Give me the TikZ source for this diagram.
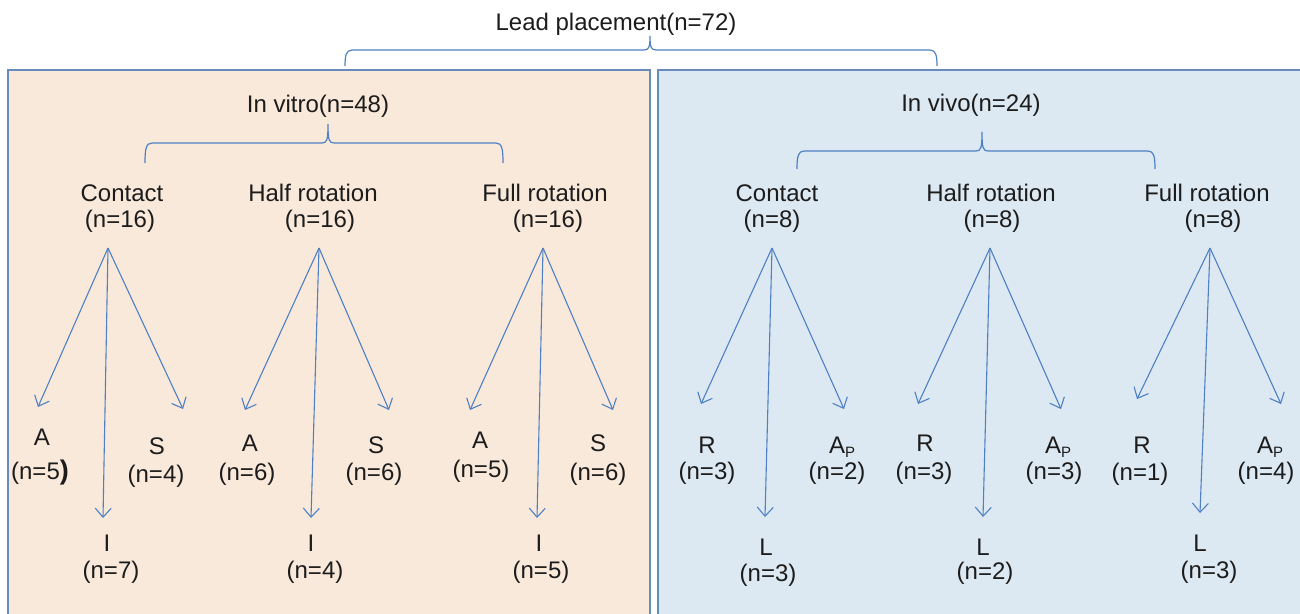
\documentclass[tikz,border=0pt]{standalone}
\usepackage{fontspec}
\setmainfont{Liberation Sans}
\usetikzlibrary{arrows.meta}
\definecolor{beigefill}{RGB}{249,233,218}
\definecolor{bluefill}{RGB}{221,233,242}
\definecolor{bordcol}{RGB}{105,138,188}
\definecolor{arrcol}{RGB}{78,128,196}
\definecolor{txtcol}{RGB}{28,28,28}
\newcommand\mybrace[6]{% x1, x2, xm, y, ybottom, tip height
  \draw[brc] (#1,#5) .. controls (#1,#4+6) and (#1+1,#4) .. (#1+7,#4) -- (#3-6,#4)
    .. controls (#3-1,#4) and (#3,#4-3) .. (#3,#4-#6)
    .. controls (#3,#4-3) and (#3+1,#4) .. (#3+6,#4) -- (#2-7,#4)
    .. controls (#2-1,#4) and (#2,#4+6) .. (#2,#5);}
\newcommand\Ap{A\raisebox{-0.35ex}{\fontsize{15}{15}\selectfont P}}
\begin{document}
\begin{tikzpicture}[x=1pt,y=-1pt,
  lbl/.style={inner sep=0pt,text=txtcol,text height=17pt,text depth=0pt,font=\fontsize{24}{26}\selectfont},
  arw/.style={draw=arrcol,line width=1.1pt,-{Straight Barb[length=9pt,width=16pt,line width=1.1pt]}},
  brc/.style={draw=arrcol,line width=1.2pt},
  panel/.style={draw=bordcol,line width=1.8pt}]
\useasboundingbox (0,0) rectangle (1300,613);
\clip (0,0) rectangle (1300,613);
% panels
\draw[panel,fill=beigefill] (8,70) rectangle (650,640);
\draw[panel,fill=bluefill] (658,70) rectangle (1320,640);
% headings and braces
\node[lbl] (lead) at (616,22) {Lead placement(n=72)};
\mybrace{345}{937}{650}{50}{66}{14}
\node[lbl] (vitro) at (318,104) {In vitro(n=48)};
\mybrace{145}{503}{328}{143}{163}{19}
\node[lbl] (vivo) at (971,103) {In vivo(n=24)};
\mybrace{797}{1155}{982}{151}{169}{19}
% category labels
\node[lbl] (c1a) at (122,193) {Contact};       \node[lbl] (c1b) at (120,219) {(n=16)};
\node[lbl] (c2a) at (313,193) {Half rotation}; \node[lbl] (c2b) at (320,219) {(n=16)};
\node[lbl] (c3a) at (545,193) {Full rotation}; \node[lbl] (c3b) at (548,219) {(n=16)};
\node[lbl] (c4a) at (777,193) {Contact};       \node[lbl] (c4b) at (772,219) {(n=8)};
\node[lbl] (c5a) at (991,193) {Half rotation}; \node[lbl] (c5b) at (992,219) {(n=8)};
\node[lbl] (c6a) at (1207,193) {Full rotation};\node[lbl] (c6b) at (1213,219) {(n=8)};
% apexes
\coordinate (p1) at (108,248);
\coordinate (p2) at (319,248);
\coordinate (p3) at (543,248);
\coordinate (p4) at (772,248);
\coordinate (p5) at (990,248);
\coordinate (p6) at (1210,248);
% arrow ends
\coordinate (e1l) at (38,407);   \coordinate (e1m) at (103,518);  \coordinate (e1r) at (183,409);
\coordinate (e2l) at (245,410);  \coordinate (e2m) at (311,518);  \coordinate (e2r) at (389,410);
\coordinate (e3l) at (470,410);  \coordinate (e3m) at (537,518);  \coordinate (e3r) at (613,410);
\coordinate (e4l) at (701,404);  \coordinate (e4m) at (765,517);  \coordinate (e4r) at (844,409);
\coordinate (e5l) at (918,404);  \coordinate (e5m) at (983,517);  \coordinate (e5r) at (1061,409);
\coordinate (e6l) at (1137,399); \coordinate (e6m) at (1200,513); \coordinate (e6r) at (1281,404);
\foreach \i in {1,...,6}{
  \draw[arw] (p\i) -- (e\i l);
  \draw[arw] (p\i) -- (e\i m);
  \draw[arw] (p\i) -- (e\i r);
}
% leaf labels: in vitro
\node[lbl] (l1a) at (42,437) {A};   \node[lbl] (l1b) at (40,471) {(n=5{\fontsize{27}{27}\selectfont\bfseries)}};
\node[lbl] (r1a) at (157,446) {S};  \node[lbl] (r1b) at (156,474) {(n=4)};
\node[lbl] (m1a) at (107,543) {I};  \node[lbl] (m1b) at (111,570) {(n=7)};
\node[lbl] (l2a) at (250,443) {A};  \node[lbl] (l2b) at (247,472) {(n=6)};
\node[lbl] (r2a) at (376,445) {S};  \node[lbl] (r2b) at (374,472) {(n=6)};
\node[lbl] (m2a) at (311,543) {I};  \node[lbl] (m2b) at (315,570) {(n=4)};
\node[lbl] (l3a) at (480,440) {A};  \node[lbl] (l3b) at (481,469) {(n=5)};
\node[lbl] (r3a) at (598,443) {S};  \node[lbl] (r3b) at (598,472) {(n=6)};
\node[lbl] (m3a) at (539,543) {I};  \node[lbl] (m3b) at (541,570) {(n=5)};
% leaf labels: in vivo
\node[lbl] (l4a) at (707,445) {R};   \node[lbl] (l4b) at (707,471) {(n=3)};
\node[lbl] (r4a) at (842,445) {\Ap}; \node[lbl] (r4b) at (837,471) {(n=2)};
\node[lbl] (m4a) at (766,547) {L};   \node[lbl] (m4b) at (768,573) {(n=3)};
\node[lbl] (l5a) at (925,443) {R};   \node[lbl] (l5b) at (924,471) {(n=3)};
\node[lbl] (r5a) at (1058,445) {\Ap};\node[lbl] (r5b) at (1054,471) {(n=3)};
\node[lbl] (m5a) at (983,547) {L};   \node[lbl] (m5b) at (985,571) {(n=2)};
\node[lbl] (l6a) at (1142,445) {R};  \node[lbl] (l6b) at (1140,472) {(n=1)};
\node[lbl] (r6a) at (1270,445) {\Ap};\node[lbl] (r6b) at (1266,471) {(n=4)};
\node[lbl] (m6a) at (1200,543) {L};  \node[lbl] (m6b) at (1209,570) {(n=3)};
\end{tikzpicture}
\end{document}
